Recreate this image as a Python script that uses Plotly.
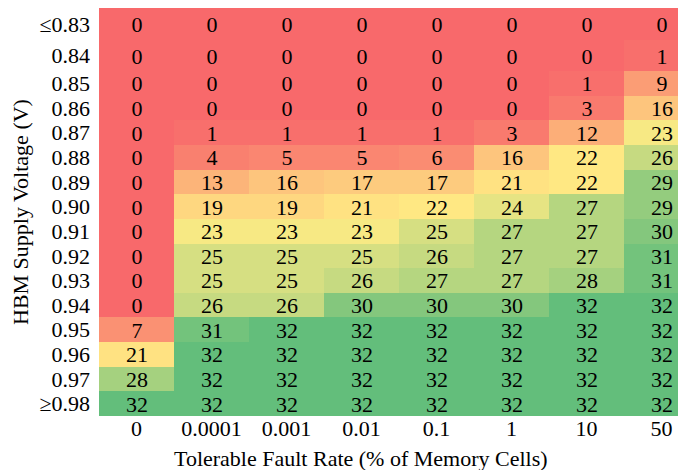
import plotly.graph_objects as go
import numpy as np

# ---- data ----
fault_rates = ["0", "0.0001", "0.001", "0.01", "0.1", "1", "10", "50"]
voltages = ["≤0.83", "0.84", "0.85", "0.86", "0.87", "0.88", "0.89", "0.90",
            "0.91", "0.92", "0.93", "0.94", "0.95", "0.96", "0.97", "≥0.98"]
counts = [
    [0, 0, 0, 0, 0, 0, 0, 0],
    [0, 0, 0, 0, 0, 0, 0, 1],
    [0, 0, 0, 0, 0, 0, 1, 9],
    [0, 0, 0, 0, 0, 0, 3, 16],
    [0, 1, 1, 1, 1, 3, 12, 23],
    [0, 4, 5, 5, 6, 16, 22, 26],
    [0, 13, 16, 17, 17, 21, 22, 29],
    [0, 19, 19, 21, 22, 24, 27, 29],
    [0, 23, 23, 23, 25, 27, 27, 30],
    [0, 25, 25, 25, 26, 27, 27, 31],
    [0, 25, 25, 26, 27, 27, 28, 31],
    [0, 26, 26, 30, 30, 30, 32, 32],
    [7, 31, 32, 32, 32, 32, 32, 32],
    [21, 32, 32, 32, 32, 32, 32, 32],
    [28, 32, 32, 32, 32, 32, 32, 32],
    [32, 32, 32, 32, 32, 32, 32, 32],
]

# ---- layout / style ----
W, H = 678, 470
ML, MR, MT, MB = 99, 0, 8, 54
FONT = "Times New Roman, Liberation Serif, DejaVu Serif, serif"
FS = 22

# row heights (layout: first two rows taller as in the original sheet)
row_h = [32, 31] + [24.64] * 14
y_edges = np.concatenate([[0], np.cumsum(row_h)])
y_centers = (y_edges[:-1] + y_edges[1:]) / 2

zmax = 32
mid = 22.5 / zmax
colorscale = [[0, "#F8696B"], [mid, "#FFEB84"], [1, "#63BE7B"]]

fig = go.Figure(go.Heatmap(
    z=counts,
    x=list(range(len(fault_rates))),
    y=y_edges,
    text=counts,
    texttemplate="%{text}",
    textfont=dict(family=FONT, size=FS, color="black"),
    colorscale=colorscale,
    zmin=0, zmax=zmax,
    showscale=False,
    hoverinfo="skip",
))

fig.update_layout(
    width=W, height=H,
    margin=dict(l=ML, r=MR, t=MT, b=MB, pad=0),
    paper_bgcolor="white", plot_bgcolor="white",
    font=dict(family=FONT, size=FS, color="black"),
    xaxis=dict(
        tickmode="array", tickvals=list(range(len(fault_rates))), ticktext=fault_rates,
        range=[-0.5, 7.22], showgrid=False, zeroline=False, showline=False,
        ticks="", ticklabelstandoff=-3, tickfont=dict(family=FONT, size=FS, color="black"),
    ),
    yaxis=dict(
        tickmode="array", tickvals=list(y_centers), ticktext=voltages,
        range=[y_edges[-1], 0], showgrid=False, zeroline=False, showline=False,
        ticks="", ticklabelstandoff=8, tickfont=dict(family=FONT, size=FS, color="black"),
    ),
    annotations=[
        dict(text="Tolerable Fault Rate (% of Memory Cells)", xref="paper", yref="paper",
             x=(361 - ML) / (W - ML - MR), y=-(458 - (H - MB)) / (H - MT - MB),
             xanchor="center", yanchor="middle", showarrow=False,
             font=dict(family=FONT, size=FS, color="black")),
        dict(text="HBM Supply Voltage (V)", xref="paper", yref="paper",
             x=(20 - ML) / (W - ML - MR), y=0.5, textangle=-90,
             xanchor="center", yanchor="middle", showarrow=False,
             font=dict(family=FONT, size=FS, color="black")),
    ],
)

fig.write_html(
    "out.html",
    config={"displayModeBar": False},
    post_script="document.body.style.margin='0';document.body.style.overflow='hidden';",
)
